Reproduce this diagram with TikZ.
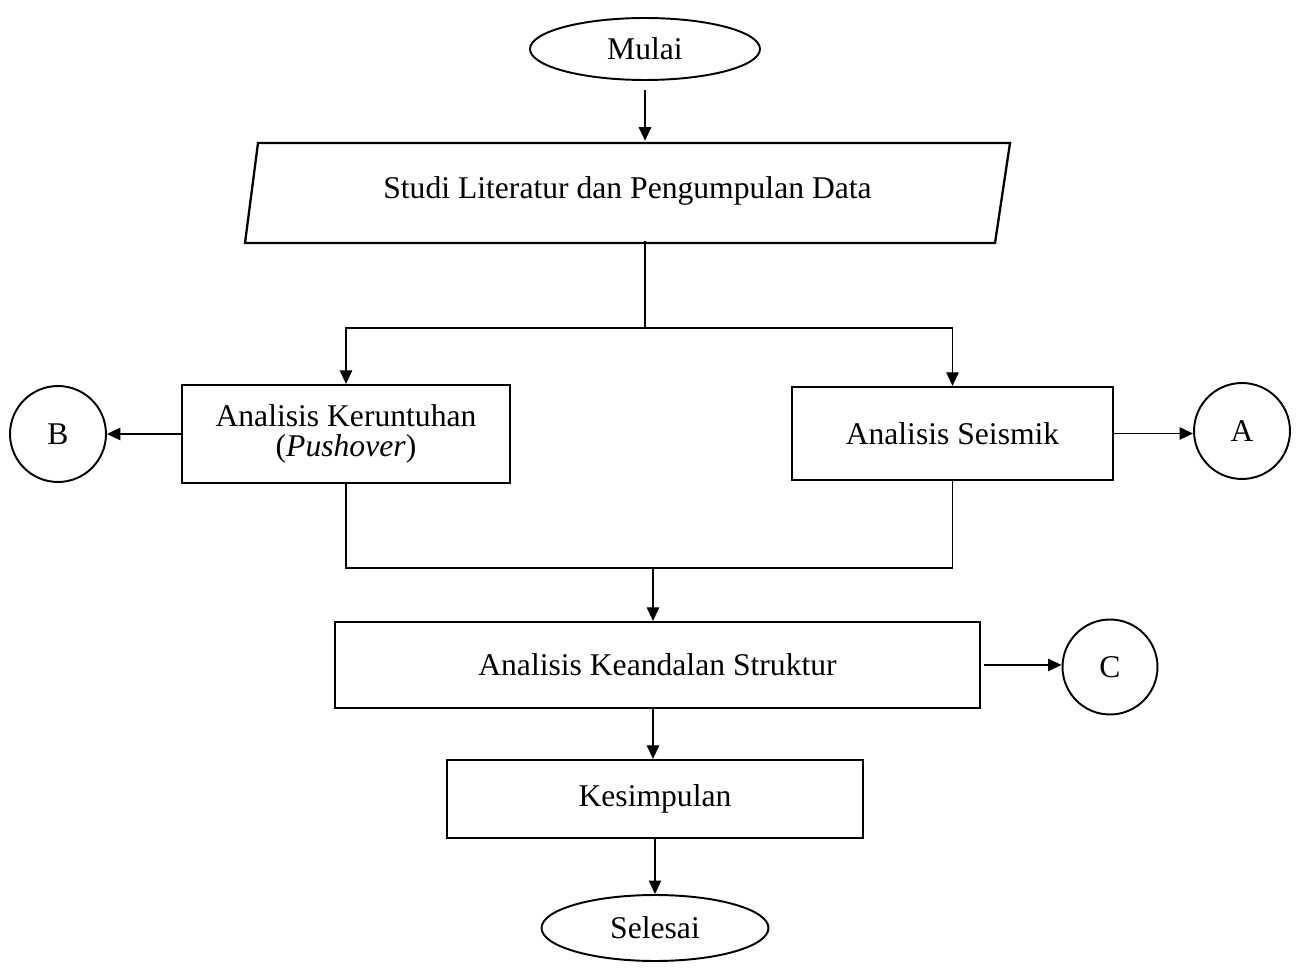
\documentclass[tikz,border=0pt]{standalone}
\usepackage{fontspec}
\setmainfont{Liberation Serif}
\usetikzlibrary{shapes.geometric,arrows.meta}
\begin{document}
\begin{tikzpicture}[x=0.02cm,y=-0.02cm,
  every node/.style={font=\fontsize{18}{17.5}\selectfont, inner sep=0pt},
  boxn/.style={draw, line width=1.3pt, rectangle, align=center},
  term/.style={draw, line width=1.1pt, ellipse},
  conn/.style={draw, line width=1.1pt, circle},
  arr/.style={line width=0.7pt, -{Triangle[length=0.27cm,width=0.25cm]}},
  ln/.style={line width=0.7pt}]
\useasboundingbox (0,0) rectangle (1299,976);
\node[term, minimum width=4.6cm, minimum height=1.24cm] (mulai) at (645,49) {Mulai};
\node[rectangle, minimum width=15.3cm, minimum height=2cm] (lit) at (627.5,191) {Studi Literatur dan Pengumpulan Data};
\draw[line width=1.3pt, line join=miter] (258,143) -- (1010,143) -- (995,243) -- (245,243) -- cycle;
\node[boxn, minimum width=6.56cm, minimum height=1.96cm] (ker) at (346,434) {Analisis Keruntuhan\\(\textit{Pushover})};
\node[boxn, minimum width=6.42cm, minimum height=1.86cm] (seis) at (952.5,433.5) {Analisis Seismik};
\node[conn, minimum size=1.92cm] (B) at (58,434) {B};
\node[conn, minimum size=1.92cm] (A) at (1242,431) {A};
\node[boxn, minimum width=12.9cm, minimum height=1.72cm] (keand) at (657.5,665) {Analisis Keandalan Struktur};
\node[conn, minimum size=1.9cm] (C) at (1110,667) {C};
\node[boxn, minimum width=8.32cm, minimum height=1.56cm] (kes) at (655,799) {Kesimpulan};
\node[term, minimum width=4.54cm, minimum height=1.32cm] (sel) at (655,928) {Selesai};
\coordinate (j1) at (645,328);
\coordinate (j2) at (653,568);
\draw[arr, shorten <=0.18cm] (mulai.south) -- (mulai.south |- lit.north);
\draw[ln] (j1 |- lit.south) -- (j1);
\draw[arr] (j1) -| (ker.north);
\draw[arr] (j1) -| (seis.north);
\draw[arr] (ker.west) -- (B.east |- ker.west);
\draw[arr] (seis.east) -- (A.west |- seis.east);
\draw[ln] (ker.south) -- (ker.south |- j2) -- (seis.south |- j2) -- (seis.south);
\draw[arr] (j2) -- (j2 |- keand.north);
\draw[arr, shorten <=0.06cm] (keand.east) -- (C.west |- keand.east);
\draw[arr] (keand.south -| j2) -- (j2 |- kes.north);
\draw[arr] (kes.south) -- (sel.north);
\end{tikzpicture}
\end{document}
